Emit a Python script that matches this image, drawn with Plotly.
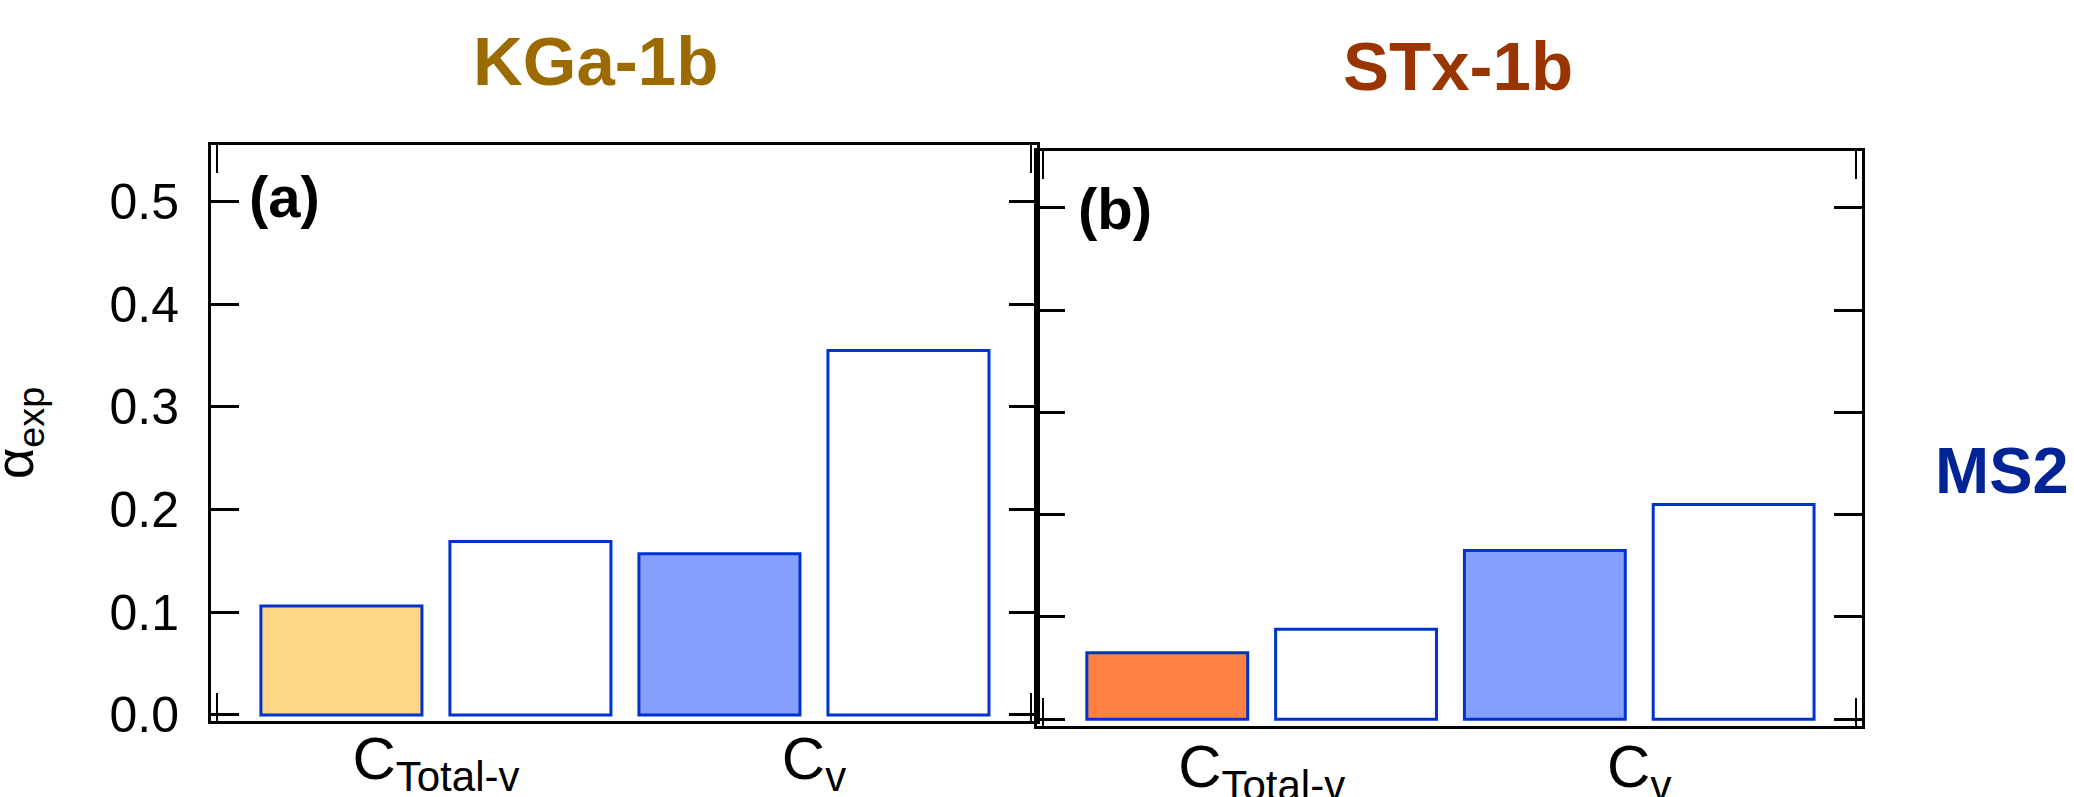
import plotly.graph_objects as go

W, H = 2074, 797

# ---- data ----
categories = ["C<sub>Total-v</sub>", "C<sub>v</sub>"]
kga_filled = [0.106, 0.157]
kga_open = [0.169, 0.355]
stx_filled = [0.065, 0.165]
stx_open = [0.088, 0.210]
kga_fill_colors = ["#FFD685", "#849FFF"]
stx_fill_colors = ["#FF8142", "#849FFF"]
y_ticks = [0.0, 0.1, 0.2, 0.3, 0.4, 0.5]
y_ticktext = ["0.0", "0.1", "0.2", "0.3", "0.4", "0.5"]

FONT = "Arial, 'Liberation Sans', sans-serif"
EDGE = "#0033CC"


def px(x):
    return x / W


def py(y):
    return 1 - y / H


fig = go.Figure()

for xa, ya, filled, opened, fcols in [
    ("x", "y", kga_filled, kga_open, kga_fill_colors),
    ("x2", "y2", stx_filled, stx_open, stx_fill_colors),
]:
    fig.add_trace(go.Bar(x=categories, y=filled, xaxis=xa, yaxis=ya,
                         marker=dict(color=fcols, line=dict(color=EDGE, width=3)),
                         showlegend=False))
    fig.add_trace(go.Bar(x=categories, y=opened, xaxis=xa, yaxis=ya,
                         marker=dict(color="white", line=dict(color=EDGE, width=3)),
                         showlegend=False))

xrange_ = [-0.595, 1.59]
common_x = dict(
    type="category", range=xrange_, showline=True, linecolor="black", linewidth=3,
    mirror="ticks", ticks="", ticklen=0, tickvals=[0, 1], ticktext=categories, automargin=False,
    tickfont=dict(family=FONT, size=60, color="black"), showgrid=False, zeroline=False,
    minor=dict(ticks="inside", tickmode="array", tickvals=[-0.578, 1.573],
               ticklen=28, tickwidth=2, tickcolor="black", showgrid=False),
)
common_y = dict(
    showline=True, linecolor="black", linewidth=3, mirror="ticks", automargin=False,
    ticks="inside", ticklen=28, tickwidth=3, tickcolor="black",
    tickvals=y_ticks, showgrid=False, zeroline=False,
)

fig.update_layout(
    template="none",
    width=W, height=H, margin=dict(l=0, r=0, t=0, b=0, pad=0),
    paper_bgcolor="white", plot_bgcolor="white",
    barmode="group", bargap=0.0, bargroupgap=0.148,
    xaxis=dict(common_x, domain=[px(211), px(1037)], anchor="y", ticklabelstandoff=-17),
    xaxis2=dict(common_x, domain=[px(1037), px(1862)], anchor="y2", ticklabelstandoff=-14),
    yaxis=dict(common_y, domain=[py(720.7), py(145)], range=[-0.0056, 0.555], anchor="x",
               ticktext=y_ticktext, tickfont=dict(family=FONT, size=50, color="black"),
               ticklabelstandoff=19),
    yaxis2=dict(common_y, domain=[py(726), py(150.7)], range=[-0.0066, 0.5558], anchor="x2",
                showticklabels=False),
    font=dict(family=FONT, color="black"),
    showlegend=False,
)

annots = [
    dict(text="<b>KGa-1b</b>", x=px(595), y=py(61), size=69, color="#9B6A00"),
    dict(text="<b>STx-1b</b>", x=px(1458), y=py(67), size=69, color="#9A3500"),
    dict(text="<b>(a)</b>", x=px(284), y=py(197), size=58, color="black"),
    dict(text="<b>(b)</b>", x=px(1115), y=py(208), size=58, color="black"),
]
for a in annots:
    fig.add_annotation(text=a["text"], x=a["x"], y=a["y"], xref="paper", yref="paper",
                       xanchor="center", yanchor="middle", showarrow=False,
                       font=dict(family=FONT, size=a["size"], color=a["color"]))

fig.add_annotation(text="<b>MS2</b>", x=px(1933), y=py(470), xref="paper", yref="paper",
                   xanchor="left", yanchor="middle", showarrow=False,
                   font=dict(family=FONT, size=65, color="#002396"))
fig.add_annotation(text="α<sub>exp</sub>", x=px(18), y=py(433), xref="paper", yref="paper",
                   xanchor="center", yanchor="middle", showarrow=False, textangle=-90,
                   font=dict(family=FONT, size=54, color="black"))

fig.write_html("out.html", config={"displayModeBar": False},
               post_script="document.body.style.margin='0';document.body.style.overflow='hidden';")
